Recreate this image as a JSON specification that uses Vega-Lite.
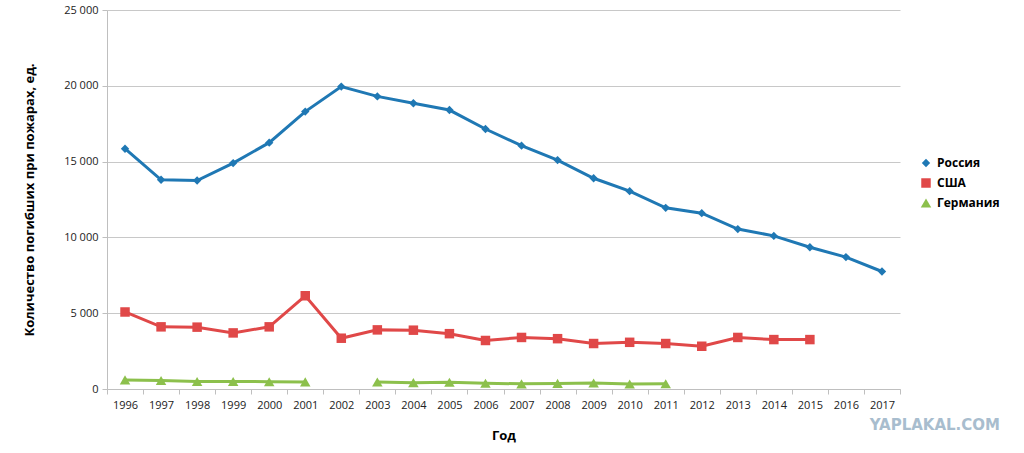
{
  "$schema": "https://vega.github.io/schema/vega-lite/v6.json",
  "width": 793,
  "height": 379,
  "autosize": {"type": "none"},
  "padding": {"left": 107, "top": 10, "right": 124, "bottom": 64},
  "title": {
    "text": "YAPLAKAL.COM",
    "orient": "bottom",
    "anchor": "end",
    "frame": "bounds",
    "offset": -24,
    "font": "DejaVu Sans",
    "fontSize": 15,
    "fontWeight": "bold",
    "color": "#a8bdce"
  },
  "config": {
    "font": "Open Sans",
    "view": {"stroke": null},
    "locale": {
      "number": {"decimal": ",", "thousands": " ", "grouping": [3], "currency": ["", ""]}
    }
  },
  "data": {
    "values": [
      {"year": "1996", "country": "Россия", "value": 15850},
      {"year": "1997", "country": "Россия", "value": 13800},
      {"year": "1998", "country": "Россия", "value": 13750},
      {"year": "1999", "country": "Россия", "value": 14900},
      {"year": "2000", "country": "Россия", "value": 16250},
      {"year": "2001", "country": "Россия", "value": 18300},
      {"year": "2002", "country": "Россия", "value": 19950},
      {"year": "2003", "country": "Россия", "value": 19300},
      {"year": "2004", "country": "Россия", "value": 18850},
      {"year": "2005", "country": "Россия", "value": 18400},
      {"year": "2006", "country": "Россия", "value": 17150},
      {"year": "2007", "country": "Россия", "value": 16050},
      {"year": "2008", "country": "Россия", "value": 15100},
      {"year": "2009", "country": "Россия", "value": 13900},
      {"year": "2010", "country": "Россия", "value": 13050},
      {"year": "2011", "country": "Россия", "value": 11950},
      {"year": "2012", "country": "Россия", "value": 11600},
      {"year": "2013", "country": "Россия", "value": 10550},
      {"year": "2014", "country": "Россия", "value": 10100},
      {"year": "2015", "country": "Россия", "value": 9350},
      {"year": "2016", "country": "Россия", "value": 8700},
      {"year": "2017", "country": "Россия", "value": 7750},
      {"year": "1996", "country": "США", "value": 5080},
      {"year": "1997", "country": "США", "value": 4100},
      {"year": "1998", "country": "США", "value": 4080},
      {"year": "1999", "country": "США", "value": 3700},
      {"year": "2000", "country": "США", "value": 4100},
      {"year": "2001", "country": "США", "value": 6150},
      {"year": "2002", "country": "США", "value": 3350},
      {"year": "2003", "country": "США", "value": 3900},
      {"year": "2004", "country": "США", "value": 3880},
      {"year": "2005", "country": "США", "value": 3650},
      {"year": "2006", "country": "США", "value": 3200},
      {"year": "2007", "country": "США", "value": 3400},
      {"year": "2008", "country": "США", "value": 3320},
      {"year": "2009", "country": "США", "value": 3000},
      {"year": "2010", "country": "США", "value": 3080},
      {"year": "2011", "country": "США", "value": 3000},
      {"year": "2012", "country": "США", "value": 2820},
      {"year": "2013", "country": "США", "value": 3400},
      {"year": "2014", "country": "США", "value": 3260},
      {"year": "2015", "country": "США", "value": 3260},
      {"year": "1996", "country": "Германия", "value": 600},
      {"year": "1997", "country": "Германия", "value": 560},
      {"year": "1998", "country": "Германия", "value": 500},
      {"year": "1999", "country": "Германия", "value": 500},
      {"year": "2000", "country": "Германия", "value": 480},
      {"year": "2001", "country": "Германия", "value": 470},
      {"year": "2002", "country": "Германия", "value": null},
      {"year": "2003", "country": "Германия", "value": 460},
      {"year": "2004", "country": "Германия", "value": 420},
      {"year": "2005", "country": "Германия", "value": 450},
      {"year": "2006", "country": "Германия", "value": 380},
      {"year": "2007", "country": "Германия", "value": 340},
      {"year": "2008", "country": "Германия", "value": 370},
      {"year": "2009", "country": "Германия", "value": 400},
      {"year": "2010", "country": "Германия", "value": 330},
      {"year": "2011", "country": "Германия", "value": 350}
    ]
  },
  "encoding": {
    "x": {
      "field": "year",
      "type": "ordinal",
      "scale": {"type": "band", "paddingInner": 0, "paddingOuter": 0},
      "axis": {
        "title": "Год",
        "titleFontSize": 13,
        "titleFontWeight": "bold",
        "titleColor": "#000000",
        "titlePadding": 19,
        "labelAngle": 0,
        "labelFontSize": 11,
        "labelColor": "#222222",
        "labelPadding": 5,
        "tickBand": "extent",
        "tickSize": 5,
        "tickColor": "#bfbfbf",
        "domainColor": "#bfbfbf",
        "grid": false
      }
    },
    "y": {
      "field": "value",
      "type": "quantitative",
      "scale": {"domain": [0, 25000]},
      "axis": {
        "title": "Количество погибших при пожарах, ед.",
        "titleFontSize": 13,
        "titleFontWeight": "bold",
        "titleColor": "#000000",
        "titlePadding": 27,
        "values": [0, 5000, 10000, 15000, 20000, 25000],
        "format": ",d",
        "labelFontSize": 11,
        "labelColor": "#222222",
        "labelPadding": 4,
        "tickSize": 5,
        "tickColor": "#bfbfbf",
        "domainColor": "#bfbfbf",
        "gridColor": "#c8c8c8"
      }
    },
    "color": {
      "field": "country",
      "type": "nominal",
      "scale": {
        "domain": ["Россия", "США", "Германия"],
        "range": ["#1f78b4", "#e04848", "#8cc04c"]
      },
      "legend": {
        "title": null,
        "orient": "none",
        "legendX": 813,
        "legendY": 147,
        "labelFontSize": 12,
        "labelFontWeight": "bold",
        "labelColor": "#000000",
        "labelOffset": 5,
        "rowPadding": 8,
        "symbolSize": 676,
        "symbolStrokeWidth": 0
      }
    }
  },
  "layer": [
    {
      "mark": {"type": "line", "strokeWidth": 3, "invalid": "break-paths-show-domains"}
    },
    {
      "transform": [{"filter": "datum.value != null"}],
      "mark": {"type": "point", "filled": true, "opacity": 1},
      "encoding": {
        "shape": {
          "field": "country",
          "type": "nominal",
          "scale": {
            "domain": ["Россия", "США", "Германия"],
            "range": ["diamond", "square", "triangle-up"]
          },
          "legend": null
        },
        "size": {
          "field": "country",
          "type": "nominal",
          "scale": {"domain": ["Россия", "США", "Германия"], "range": [70, 110, 100]},
          "legend": null
        }
      }
    }
  ]
}
